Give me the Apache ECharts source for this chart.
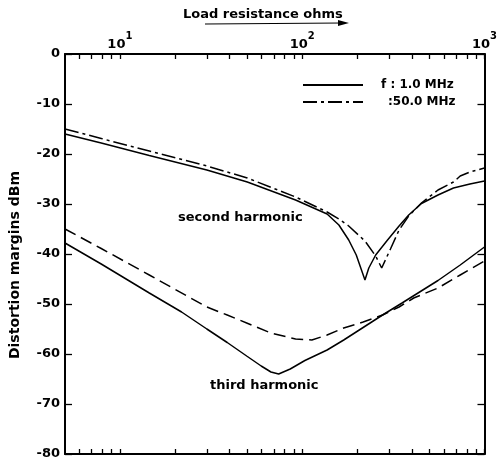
<!DOCTYPE html>
<html>
<head>
<meta charset="utf-8">
<script src="https://cdn.jsdelivr.net/npm/echarts@6/dist/echarts.min.js"></script>
<style>html,body{margin:0;padding:0;background:#fff;}#c{width:500px;height:462px;}</style>
</head>
<body>
<div id="c"></div>
<script>
// Load resistance (ohms) and distortion margins (dBm)
const r2_1MHz  = [5, 7.9, 14.5, 30, 50, 92, 137, 159, 180, 198, 221, 232, 253, 294, 340, 384, 451, 556, 676, 832, 1000];
const v2_1MHz  = [-16, -17.8, -20.3, -23.2, -25.6, -29.2, -32, -34.2, -37.2, -40.2, -45.2, -42.8, -40.2, -37.2, -34.4, -32.2, -29.9, -28.2, -26.8, -26, -25.4];
const r2_50MHz = [5, 7.9, 14.5, 30, 50, 92, 137, 159, 180, 221, 253, 273, 305, 340, 384, 451, 556, 676, 736, 832, 1000];
const v2_50MHz = [-15, -16.9, -19.4, -22.4, -24.8, -28.6, -31.6, -33, -34.4, -37.4, -40.4, -42.8, -39, -35.2, -32.4, -29.8, -27.2, -25.6, -24.4, -23.6, -22.8];
const r3_1MHz  = [5, 7.9, 14.5, 21.8, 30, 38.8, 49.6, 59.6, 67.4, 74.3, 86, 103.5, 137, 169, 276, 353, 556, 736, 1000];
const v3_1MHz  = [-37.8, -42, -47.8, -51.6, -55, -57.7, -60.4, -62.4, -63.6, -64, -63, -61.3, -59.2, -57.2, -52.2, -49.8, -45.3, -42.2, -38.6];
const r3_50MHz = [5, 7.9, 14.5, 30, 38.8, 49.6, 67.4, 92, 113, 137, 169, 216, 276, 340, 409, 556, 736, 1000];
const v3_50MHz = [-35, -38.9, -44.2, -50.6, -52.2, -53.8, -55.8, -57, -57.2, -56.2, -54.8, -53.6, -52.2, -50.6, -48.8, -46.8, -44.2, -41.4];

const xTickValues  = [6,7,8,9,10,20,30,40,50,60,70,80,90,100,200,300,400,500,600,700,800,900,1000];
const xLabelValues = [10, 100, 1000];
const yTicks = [0,-10,-20,-30,-40,-50,-60,-70,-80];

const name1 = 'f : 1.0 MHz';
const name50 = ':50.0 MHz';

const FONT = 'DejaVu Sans';
const pair = (xs, ys) => xs.map((x, i) => [x, ys[i]]);

const chart = echarts.init(document.getElementById('c'), null, {renderer: 'canvas'});
const axisLineStyle = {color: '#000', width: 2};
const tickStyle = {color: '#000', width: 1.3};
const legendFont = {fontFamily: FONT, fontWeight: 'bold', fontSize: 12, color: '#000'};

chart.setOption({
  animation: false,
  backgroundColor: '#fff',
  title: {
    text: 'Load resistance ohms',
    left: 178, top: 3,
    textStyle: {fontFamily: FONT, fontWeight: 'bold', fontSize: 13, color: '#000'}
  },
  grid: {left: 63, right: 5, top: 54, bottom: 8, containLabel: false},
  legend: {
    show: true,
    orient: 'vertical',
    left: 297, top: 74,
    itemWidth: 60, itemHeight: 12, itemGap: 5,
    data: [name1, name50],
    itemStyle: {opacity: 0},
    formatter: n => n === name50 ? '{p|' + n + '}' : '{q|' + n + '}',
    textStyle: {
      color: '#000', fontFamily: FONT, fontWeight: 'bold', fontSize: 12,
      rich: {
        p: Object.assign({padding: [0, 0, 0, 20]}, legendFont),
        q: Object.assign({padding: [0, 0, 0, 13]}, legendFont)
      }
    }
  },
  xAxis: [
    {
      type: 'log', logBase: 10, position: 'top', min: 5, max: 1000,
      axisLine: {show: true, lineStyle: axisLineStyle},
      axisTick: {show: true, inside: true, length: 5, customValues: xTickValues, lineStyle: tickStyle},
      axisLabel: {
        show: true, margin: 3, customValues: xLabelValues,
        formatter: v => '{a|10}{b|' + Math.round(Math.log10(v)) + '}',
        rich: {
          a: {fontFamily: FONT, fontWeight: 'bold', fontSize: 13, color: '#000', lineHeight: 20, verticalAlign: 'bottom'},
          b: {fontFamily: FONT, fontWeight: 'bold', fontSize: 10, color: '#000', verticalAlign: 'top', lineHeight: 20}
        }
      },
      splitLine: {show: false}
    },
    {
      type: 'log', logBase: 10, position: 'bottom', min: 5, max: 1000,
      axisLine: {show: true, onZero: false, lineStyle: axisLineStyle},
      axisTick: {show: true, inside: true, length: 5, customValues: xTickValues, lineStyle: tickStyle},
      axisLabel: {show: false, customValues: xLabelValues},
      splitLine: {show: false}
    }
  ],
  yAxis: [
    {
      type: 'value', position: 'left', min: -80, max: 0, interval: 10,
      name: 'Distortion margins dBm', nameLocation: 'middle', nameGap: 43,
      nameTextStyle: {fontFamily: FONT, fontWeight: 'bold', fontSize: 14, color: '#000', padding: [0, 22, 0, 0]},
      axisLine: {show: true, onZero: false, lineStyle: axisLineStyle},
      axisTick: {show: true, inside: true, length: 7, customValues: yTicks, lineStyle: tickStyle},
      axisLabel: {margin: 5, fontFamily: FONT, fontWeight: 'bold', fontSize: 13, color: '#000'},
      splitLine: {show: false}
    },
    {
      type: 'value', position: 'right', min: -80, max: 0, interval: 10,
      axisLine: {show: true, onZero: false, lineStyle: axisLineStyle},
      axisTick: {show: true, inside: true, length: 7, customValues: yTicks, lineStyle: tickStyle},
      axisLabel: {show: false},
      splitLine: {show: false}
    }
  ],
  series: [
    {name: name1, type: 'line', data: pair(r2_1MHz, v2_1MHz), showSymbol: false, symbol: 'none',
     lineStyle: {color: '#000', width: 1.5, type: 'solid'}, itemStyle: {color: '#000'}},
    {name: name50, type: 'line', data: pair(r2_50MHz, v2_50MHz), showSymbol: false, symbol: 'none',
     lineStyle: {color: '#000', width: 1.5, type: [14, 4, 3, 4]}, itemStyle: {color: '#000'}},
    {name: name1, type: 'line', data: pair(r3_1MHz, v3_1MHz), showSymbol: false, symbol: 'none',
     lineStyle: {color: '#000', width: 1.5, type: 'solid'}, itemStyle: {color: '#000'}},
    {name: name50, type: 'line', data: pair(r3_50MHz, v3_50MHz), showSymbol: false, symbol: 'none',
     lineStyle: {color: '#000', width: 1.5, type: [12, 6]}, itemStyle: {color: '#000'}}
  ],
  graphic: [
    {type: 'line', shape: {x1: 205, y1: 24, x2: 342, y2: 23}, style: {stroke: '#000', lineWidth: 1.2}},
    {type: 'polygon', shape: {points: [[349, 23], [338, 20], [338, 26]]}, style: {fill: '#000'}},
    {type: 'text', left: 178, top: 211, style: {text: 'second harmonic', font: 'bold 13px "DejaVu Sans"', fill: '#000'}},
    {type: 'text', left: 210, top: 379, style: {text: 'third harmonic', font: 'bold 13px "DejaVu Sans"', fill: '#000'}}
  ]
});
</script>
</body>
</html>
